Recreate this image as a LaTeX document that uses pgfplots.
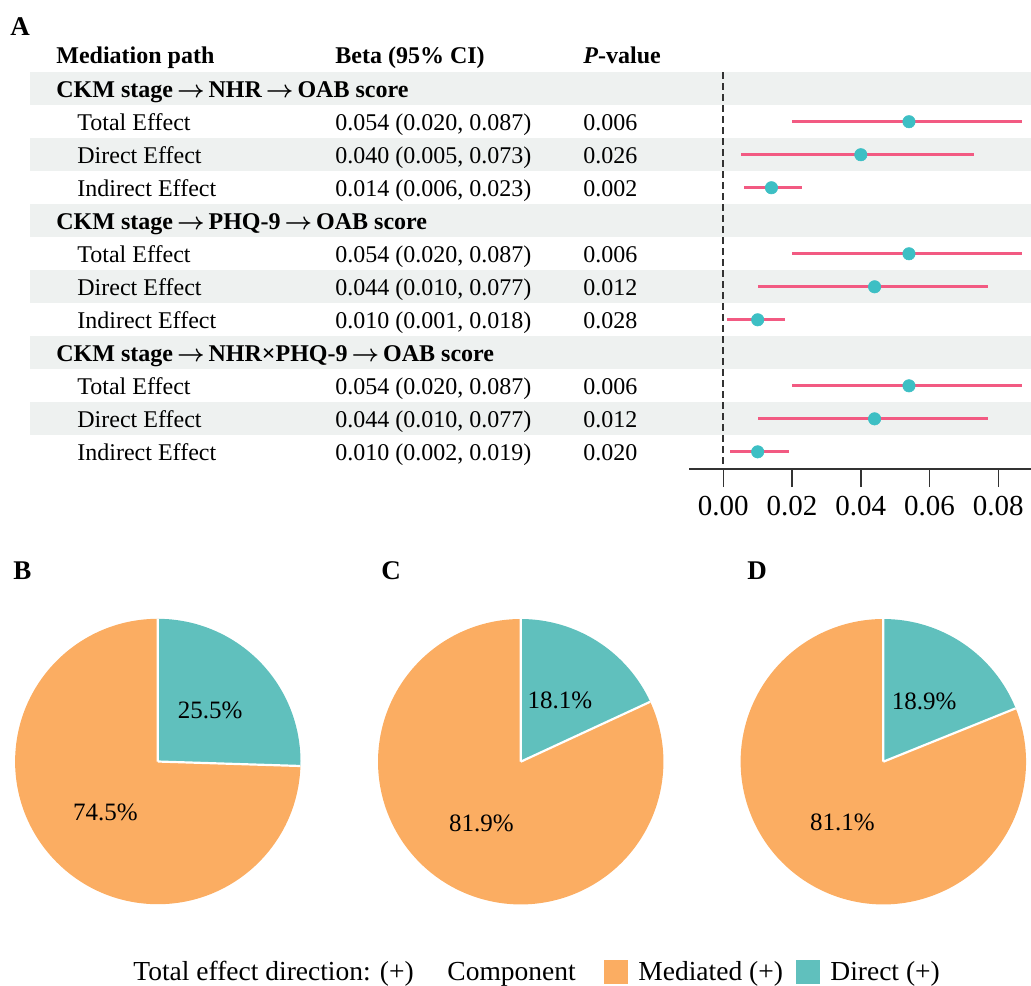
\documentclass[border=0pt]{standalone}
\usepackage{pgfplots}
\pgfplotsset{compat=1.18}
\usepackage{pgfplotstable}
\usepackage{fontspec}
\setmainfont{Liberation Serif}
\definecolor{band}{HTML}{EEF1F0}
\definecolor{pinkc}{HTML}{F25A82}
\definecolor{dotc}{HTML}{3DBFC4}
\definecolor{medc}{HTML}{FBAD62}
\definecolor{dirc}{HTML}{60C0BD}
\definecolor{axc}{HTML}{333333}

\pgfplotstableread{
row est lo hi
-2 0.054 0.020 0.087
-3 0.040 0.005 0.073
-4 0.014 0.006 0.023
-6 0.054 0.020 0.087
-7 0.044 0.010 0.077
-8 0.010 0.001 0.018
-10 0.054 0.020 0.087
-11 0.044 0.010 0.077
-12 0.010 0.002 0.019
}\foresttab

\newcommand{\tabfont}{\fontsize{12}{14}\selectfont}
\newcommand{\legfont}{\fontsize{13.75}{16}\selectfont}
\newcommand{\letfont}{\fontsize{13.5}{16}\selectfont\bfseries}
\newcommand{\piefont}{\fontsize{12.5}{15}\selectfont}
\newcommand{\arr}{\,{\boldmath$\rightarrow$}\,}

% row k: centre y(px) = 55.7 + 33 k ; baseline = centre + 8.5
\newcommand{\grouprow}[2]{\pgfmathsetmacro{\yy}{55.7+33*#1+8.5}%
  \node[anchor=base west, inner sep=0pt, font=\tabfont\bfseries] at (56,\yy) {#2};}
\newcommand{\effrow}[4]{\pgfmathsetmacro{\yy}{55.7+33*#1+8.5}%
  \node[anchor=base west, inner sep=0pt, font=\tabfont] at (77,\yy) {#2};
  \node[anchor=base west, inner sep=0pt, font=\tabfont] at (335,\yy) {#3};
  \node[anchor=base west, inner sep=0pt, font=\tabfont] at (583,\yy) {#4};}
\newcommand{\bandrow}[1]{\pgfmathsetmacro{\yy}{55.7+33*#1}%
  \fill[band] (30,\yy-16.5) rectangle (1031,\yy+16.5);}

% pie: #1 cx px, #2 cy px, #3 direct %, #4 mediated %
\newcommand{\pie}[4]{%
  \pgfmathsetmacro{\ang}{90-3.6*#3}%
  \pgfmathsetmacro{\dmid}{90-1.8*#3}%
  \pgfmathsetmacro{\mmid}{90-3.6*#3-1.8*#4}%
  \begin{axis}[at={(#1*0.5pt,-#2*0.5pt)}, anchor=center, width=142.7pt, height=142.7pt,
      scale only axis, hide axis, xmin=-1, xmax=1, ymin=-1, ymax=1, clip=false]
    \fill[medc] (axis cs:0,0) -- ++(\ang:71.35pt) arc[start angle=\ang, end angle=-270, radius=71.35pt] -- cycle;
    \fill[dirc] (axis cs:0,0) -- ++(90:71.35pt) arc[start angle=90, end angle=\ang, radius=71.35pt] -- cycle;
    \draw[white, line width=1.1pt] (axis cs:0,0) -- ++(90:71.35pt) (axis cs:0,0) -- ++(\ang:71.35pt);
    \path (axis cs:0,0) ++(\dmid:36.5pt) node[font=\piefont, inner sep=0pt] {#3\%};
    \path (axis cs:0,0) ++(\mmid:36.5pt) node[font=\piefont, inner sep=0pt] {#4\%};
  \end{axis}}

\begin{document}
\begin{tikzpicture}[x=0.5pt, y=-0.5pt]
\useasboundingbox (0,0) rectangle (1031,985);

% panel letters
\node[anchor=base west, inner sep=0pt, font=\letfont] at (10,35) {A};
\node[anchor=base west, inner sep=0pt, font=\letfont] at (13,579) {B};
\node[anchor=base west, inner sep=0pt, font=\letfont] at (381,579) {C};
\node[anchor=base west, inner sep=0pt, font=\letfont] at (747,579) {D};

% bands
\bandrow{1}\bandrow{3}\bandrow{5}\bandrow{7}\bandrow{9}\bandrow{11}

% header
\node[anchor=base west, inner sep=0pt, font=\tabfont\bfseries] at (56,63) {Mediation path};
\node[anchor=base west, inner sep=0pt, font=\tabfont\bfseries] at (335,63) {Beta (95\% CI)};
\node[anchor=base west, inner sep=0pt, font=\tabfont\bfseries] at (583,63) {\textit{P}-value};

\grouprow{1}{CKM stage\arr NHR\arr OAB score}
\effrow{2}{Total Effect}{0.054 (0.020, 0.087)}{0.006}
\effrow{3}{Direct Effect}{0.040 (0.005, 0.073)}{0.026}
\effrow{4}{Indirect Effect}{0.014 (0.006, 0.023)}{0.002}
\grouprow{5}{CKM stage\arr PHQ-9\arr OAB score}
\effrow{6}{Total Effect}{0.054 (0.020, 0.087)}{0.006}
\effrow{7}{Direct Effect}{0.044 (0.010, 0.077)}{0.012}
\effrow{8}{Indirect Effect}{0.010 (0.001, 0.018)}{0.028}
\grouprow{9}{CKM stage\arr NHR×PHQ-9\arr OAB score}
\effrow{10}{Total Effect}{0.054 (0.020, 0.087)}{0.006}
\effrow{11}{Direct Effect}{0.044 (0.010, 0.077)}{0.012}
\effrow{12}{Indirect Effect}{0.010 (0.002, 0.019)}{0.020}

% forest plot
\begin{axis}[at={(344.65pt,-234.5pt)}, anchor=south west,
    width=170.85pt, height=198.5pt, scale only axis, clip=false,
    xmin=-0.00989, xmax=0.0895, ymin=-12.52, ymax=-0.494,
    axis x line=bottom, axis y line=none,
    axis line style={-, line width=0.8pt, draw=axc},
    xtick={0,0.02,0.04,0.06,0.08},
    scaled x ticks=false,
    tick align=outside, major tick length=9pt,
    x tick style={line width=0.8pt, draw=axc},
    xticklabel style={font=\fontsize{14.5}{16}\selectfont, text=black, yshift=-1pt},
    /pgf/number format/fixed,
    /pgf/number format/fixed zerofill,
    /pgf/number format/precision=2,
    /pgf/number format/assume math mode=true,
  ]
  \addplot[draw=axc, line width=0.9pt, dash pattern=on 3.5pt off 2pt] coordinates {(0,-0.494) (0,-12.52)};
  \addplot[draw=none, mark=none,
    error bars/.cd, x dir=both, x explicit, error mark=none,
    error bar style={draw=pinkc, line width=1.5pt}]
    table[x=est, y=row,
      x error plus expr=\thisrow{hi}-\thisrow{est},
      x error minus expr=\thisrow{est}-\thisrow{lo}] {\foresttab};
  \addplot[only marks, color=dotc, mark=*, mark size=3.1pt, mark options={fill=dotc, draw=dotc, line width=0.3pt}]
    table[x=est, y=row] {\foresttab};
\end{axis}

% pies
\pie{157.8}{761.5}{25.5}{74.5}
\pie{520.7}{761.7}{18.1}{81.9}
\pie{883.3}{761.7}{18.9}{81.1}

% legend
\node[anchor=base west, inner sep=0pt, font=\legfont] at (133,980) {Total effect direction: (+)};
\node[anchor=base west, inner sep=0pt, font=\legfont] at (447,980) {Component};
\fill[medc] (604,960) rectangle (628,984);
\node[anchor=base west, inner sep=0pt, font=\legfont] at (638,980) {Mediated (+)};
\fill[dirc] (796,960) rectangle (820,984);
\node[anchor=base west, inner sep=0pt, font=\legfont] at (830,980) {Direct (+)};
\end{tikzpicture}
\end{document}
